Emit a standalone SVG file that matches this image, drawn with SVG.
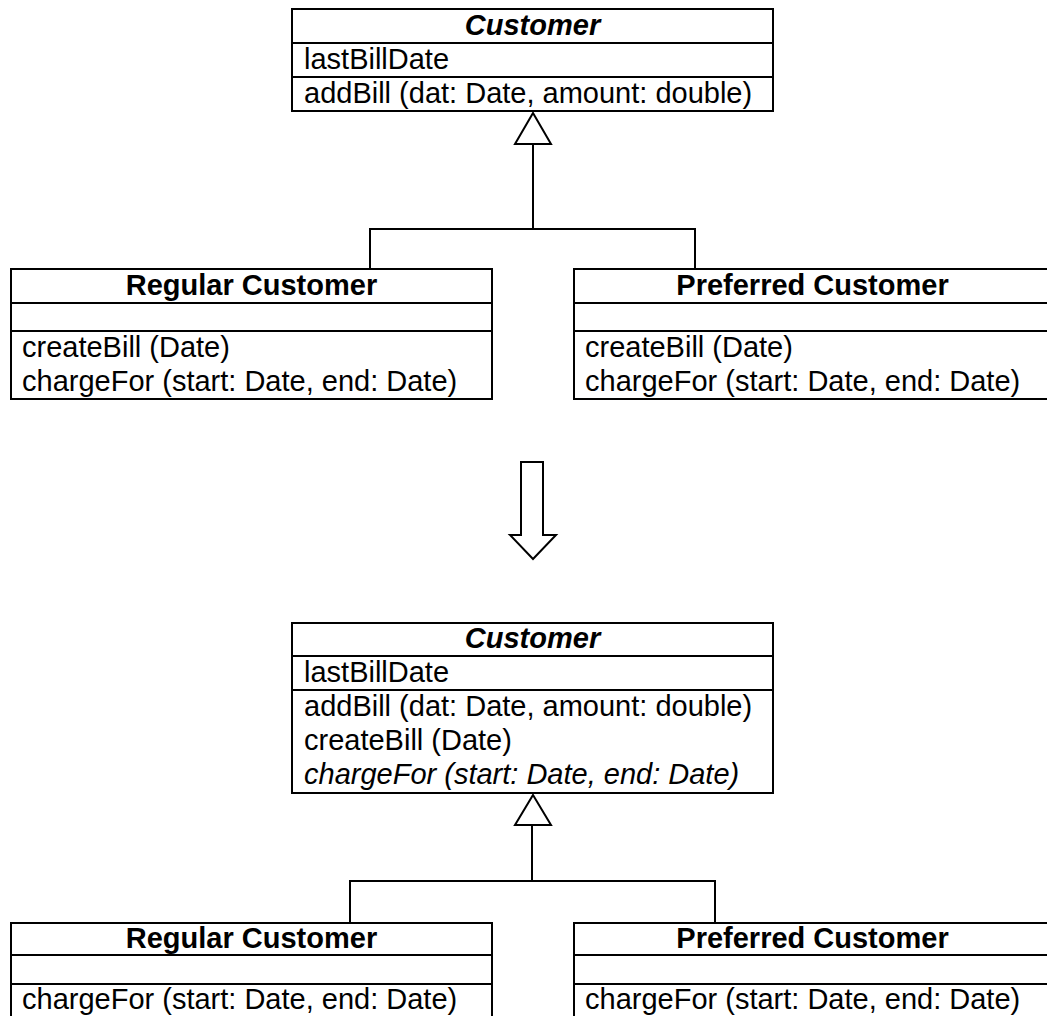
<svg xmlns="http://www.w3.org/2000/svg" width="1047" height="1016" viewBox="0 0 1047 1016">
<style>
.box{fill:#fff;stroke:#000;stroke-width:2}
.sep{stroke:#000;stroke-width:2}
.t{font-family:"Liberation Sans",Arial,sans-serif;font-size:29px;fill:#000}
.h{font-weight:bold;text-anchor:middle}
.i{font-style:italic}
.ln{fill:none;stroke:#000;stroke-width:2}
.tri{fill:#fff;stroke:#000;stroke-width:2}
</style>
<g id="connectors">
<polyline class="ln" points="533,144 533,229"/>
<polyline class="ln" points="370,269 370,229 695,229 695,269"/>
<polygon class="tri" points="533,113 551,144 515,144"/>
<polyline class="ln" points="532,825 532,881"/>
<polyline class="ln" points="350,923 350,881 715,881 715,923"/>
<polygon class="tri" points="533,795 551,825 515,825"/>
<polygon class="tri" points="521,462 543,462 543,535 556,535 533,559 510,535 521,535"/>
</g>
<g id="customer-top">
<rect class="box" x="292" y="9" width="481" height="102"/>
<line class="sep" x1="292" y1="43" x2="773" y2="43"/>
<line class="sep" x1="292" y1="77" x2="773" y2="77"/>
<text class="t h i" x="532.5" y="35">Customer</text>
<text class="t" x="304" y="69">lastBillDate</text>
<text class="t" x="304" y="103">addBill (dat: Date, amount: double)</text>
</g>
<g id="regular-top">
<rect class="box" x="11" y="269" width="481" height="130"/>
<line class="sep" x1="11" y1="303" x2="492" y2="303"/>
<line class="sep" x1="11" y1="331" x2="492" y2="331"/>
<text class="t h" x="251.5" y="295">Regular Customer</text>
<text class="t" x="22" y="357">createBill (Date)</text>
<text class="t" x="22" y="391">chargeFor (start: Date, end: Date)</text>
</g>
<g id="preferred-top">
<rect class="box" x="574" y="269" width="478" height="130"/>
<line class="sep" x1="574" y1="303" x2="1052" y2="303"/>
<line class="sep" x1="574" y1="331" x2="1052" y2="331"/>
<text class="t h" x="812.5" y="295">Preferred Customer</text>
<text class="t" x="585" y="357">createBill (Date)</text>
<text class="t" x="585" y="391">chargeFor (start: Date, end: Date)</text>
</g>
<g id="customer-bottom">
<rect class="box" x="292" y="623" width="481" height="170"/>
<line class="sep" x1="292" y1="656" x2="773" y2="656"/>
<line class="sep" x1="292" y1="690" x2="773" y2="690"/>
<text class="t h i" x="532.5" y="648">Customer</text>
<text class="t" x="304" y="682">lastBillDate</text>
<text class="t" x="304" y="716">addBill (dat: Date, amount: double)</text>
<text class="t" x="304" y="750">createBill (Date)</text>
<text class="t i" x="304" y="784">chargeFor (start: Date, end: Date)</text>
</g>
<g id="regular-bottom">
<rect class="box" x="11" y="923" width="481" height="110"/>
<line class="sep" x1="11" y1="955" x2="492" y2="955"/>
<line class="sep" x1="11" y1="984" x2="492" y2="984"/>
<text class="t h" x="251.5" y="948">Regular Customer</text>
<text class="t" x="22" y="1009">chargeFor (start: Date, end: Date)</text>
</g>
<g id="preferred-bottom">
<rect class="box" x="574" y="923" width="478" height="110"/>
<line class="sep" x1="574" y1="955" x2="1052" y2="955"/>
<line class="sep" x1="574" y1="984" x2="1052" y2="984"/>
<text class="t h" x="812.5" y="948">Preferred Customer</text>
<text class="t" x="585" y="1009">chargeFor (start: Date, end: Date)</text>
</g>
</svg>
